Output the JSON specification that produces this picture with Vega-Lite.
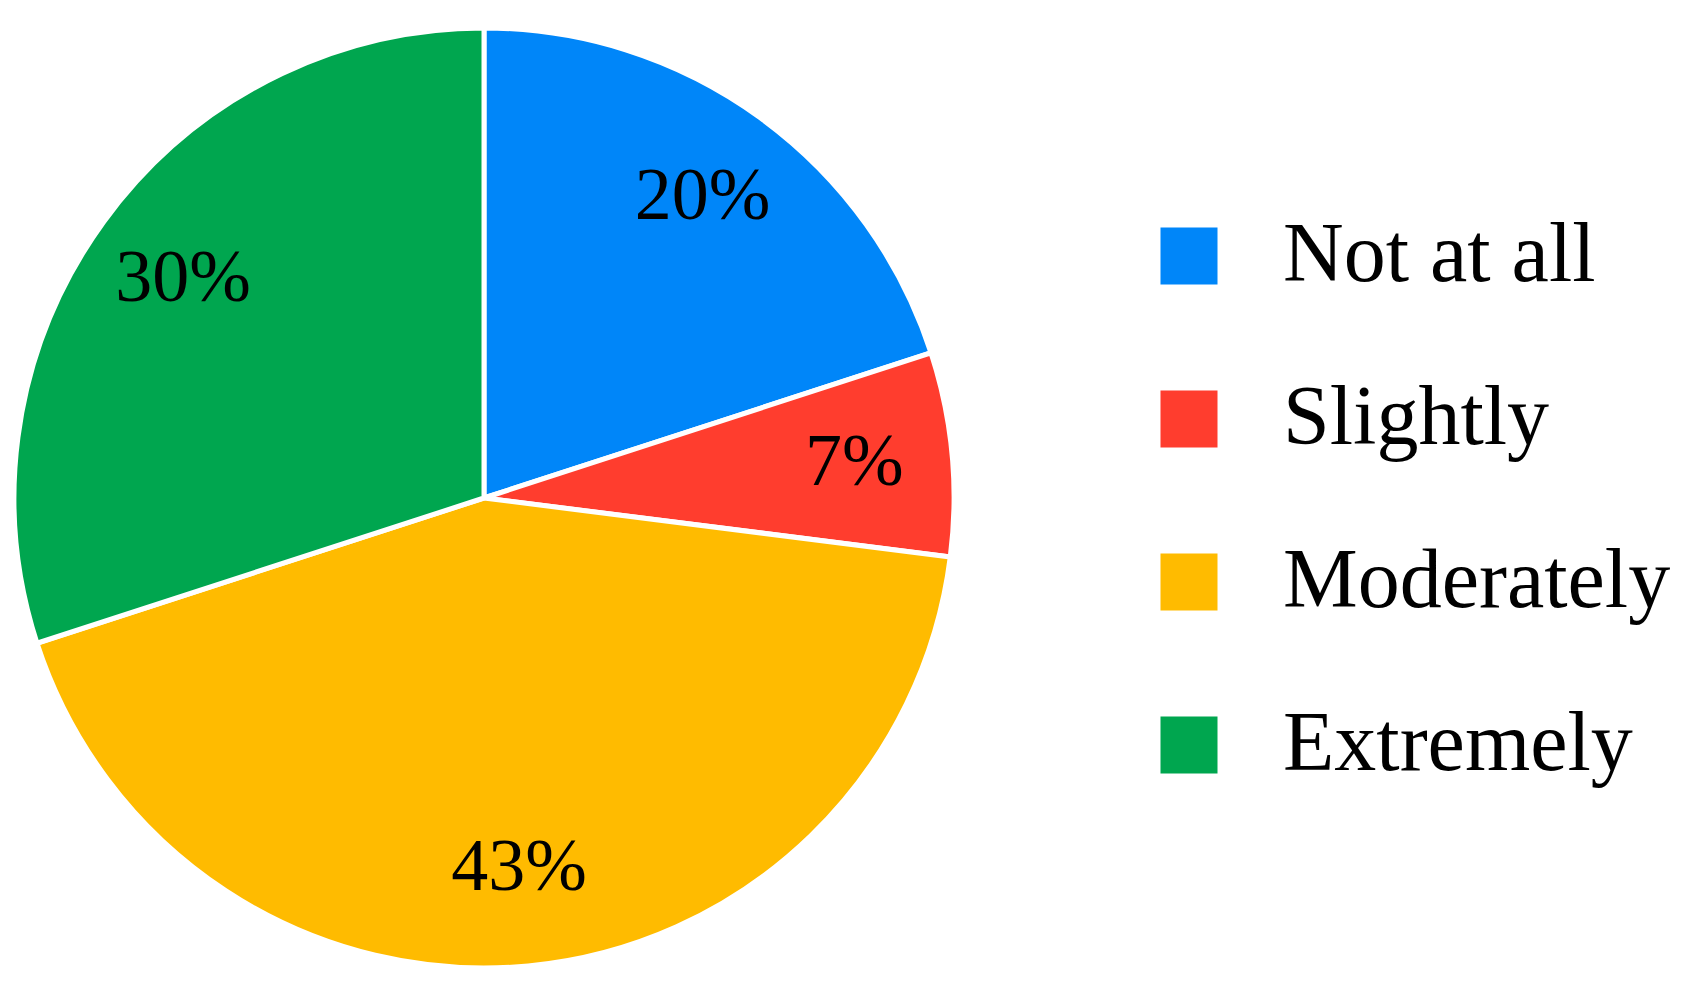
{
  "$schema": "https://vega.github.io/schema/vega-lite/v6.json",
  "width": 968,
  "height": 996,
  "autosize": {"type": "none"},
  "padding": {"left": 0, "top": 0, "right": 718, "bottom": 0},
  "background": "white",
  "config": {"view": {"stroke": null}},
  "data": {
    "values": [
      {"category": "Not at all", "value": 20, "label": "20%", "order": 1},
      {"category": "Slightly", "value": 7, "label": "7%", "order": 2},
      {"category": "Moderately", "value": 43, "label": "43%", "order": 3},
      {"category": "Extremely", "value": 30, "label": "30%", "order": 4}
    ]
  },
  "encoding": {
    "theta": {"field": "value", "type": "quantitative", "stack": true},
    "order": {"field": "order", "type": "quantitative"}
  },
  "layer": [
    {
      "mark": {"type": "arc", "radius": 470, "stroke": "white", "strokeWidth": 5},
      "encoding": {
        "color": {
          "field": "category",
          "type": "nominal",
          "sort": ["Not at all", "Slightly", "Moderately", "Extremely"],
          "scale": {
            "domain": ["Not at all", "Slightly", "Moderately", "Extremely"],
            "range": ["#0086f9", "#ff3d2e", "#ffbb00", "#00a64f"]
          },
          "legend": {
            "title": null,
            "orient": "none",
            "legendX": 1147,
            "legendY": 214,
            "padding": 0,
            "symbolType": "square",
            "symbolSize": 3250,
            "symbolStrokeWidth": 0,
            "symbolOpacity": 1,
            "labelFont": "Liberation Serif",
            "labelFontSize": 84,
            "labelColor": "black",
            "labelOffset": 52,
            "rowPadding": 79,
            "labelLimit": 600
          }
        }
      }
    },
    {
      "mark": {"type": "text", "radius": 372, "font": "Liberation Serif", "fontSize": 74, "color": "black", "baseline": "middle", "align": "center"},
      "encoding": {
        "text": {"field": "label", "type": "nominal"}
      }
    }
  ]
}
